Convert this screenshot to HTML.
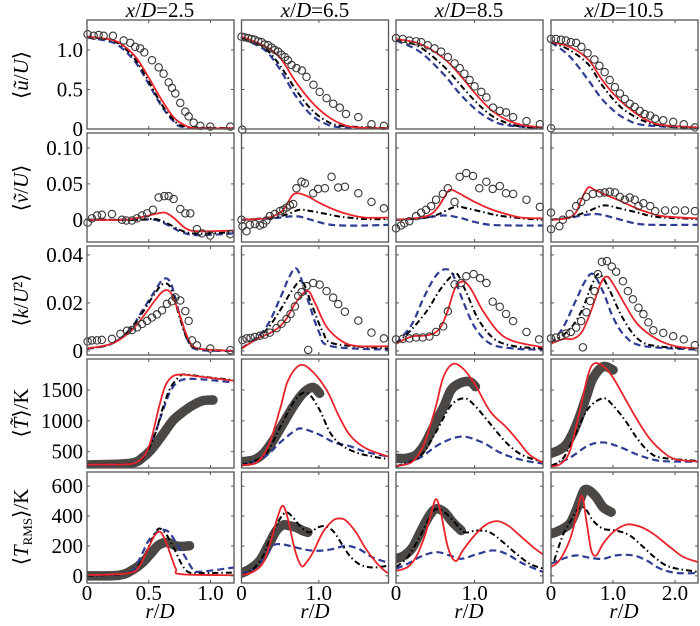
<!DOCTYPE html>
<html><head><meta charset="utf-8">
<style>
html,body{margin:0;padding:0;background:#fff;}
svg{display:block;}
text{font-family:"Liberation Serif","DejaVu Serif","Times New Roman",serif;}
</style></head>
<body>
<svg id="fig" width="700" height="626" viewBox="0 0 700 626" xmlns="http://www.w3.org/2000/svg" font-family="'Liberation Serif','DejaVu Serif',serif">
<defs id="defs"></defs>
<g id="titles" font-size="21" text-anchor="middle">
<text x="160" y="17"><tspan font-style="italic">x</tspan>/<tspan font-style="italic">D</tspan>=2.5</text>
<text x="315" y="17"><tspan font-style="italic">x</tspan>/<tspan font-style="italic">D</tspan>=6.5</text>
<text x="469" y="17"><tspan font-style="italic">x</tspan>/<tspan font-style="italic">D</tspan>=8.5</text>
<text x="624" y="17"><tspan font-style="italic">x</tspan>/<tspan font-style="italic">D</tspan>=10.5</text>
</g>
<g id="ytitles" font-size="21" text-anchor="middle">
<text transform="translate(28,75) rotate(-90)">⟨<tspan font-style="italic">ũ</tspan>/<tspan font-style="italic">U</tspan>⟩</text>
<text transform="translate(28,188) rotate(-90)">⟨<tspan font-style="italic">ṽ</tspan>/<tspan font-style="italic">U</tspan>⟩</text>
<text transform="translate(28,300) rotate(-90)">⟨<tspan font-style="italic">k</tspan>/<tspan font-style="italic">U</tspan>²⟩</text>
<text transform="translate(28,413) rotate(-90)">⟨<tspan font-style="italic">T̃</tspan>⟩/K</text>
<text transform="translate(28,527) rotate(-90)">⟨<tspan font-style="italic">T</tspan><tspan font-size="13" dy="4">RMS</tspan><tspan dy="-4">⟩/K</tspan></text>
</g>
<g id="xtitles" font-size="21" text-anchor="middle">
<text x="160" y="618"><tspan font-style="italic">r</tspan>/<tspan font-style="italic">D</tspan></text>
<text x="315" y="618"><tspan font-style="italic">r</tspan>/<tspan font-style="italic">D</tspan></text>
<text x="469" y="618"><tspan font-style="italic">r</tspan>/<tspan font-style="italic">D</tspan></text>
<text x="624" y="618"><tspan font-style="italic">r</tspan>/<tspan font-style="italic">D</tspan></text>
</g>
<g id="plots"></g>
</svg>
<script>
// ---- axis config (data ranges) ----
const colXmax=[1.19,1.9,1.87,2.37];
const rowMin=[0,-0.031,-0.0017,236,-48];
const rowMax=[1.38,0.121,0.0437,2002,695];
const rowTicks=[[0,0.5,1.0],[0,0.05,0.10],[0,0.02,0.04],[500,1000,1500],[0,200,400,600]];
const rowTickLabels=[["0","0.5","1.0"],["0","0.05","0.10"],["0","0.02","0.04"],["500","1000","1500"],["0","200","400","600"]];
const colTicks=[[0,0.5,1.0],[0,1.0],[0,1.0],[0,1.0,2.0]];
const colTickLabels=[["0","0.5","1.0"],["0","1.0"],["0","1.0"],["0","1.0","2.0"]];

// ---- row 1: <u/U> ----
const u1Exp=[[0.005,1.2],[0.054,1.18],[0.094,1.19],[0.135,1.18],[0.21,1.18],[0.297,1.12],[0.35,1.09],[0.39,1.04],[0.43,1.02],[0.464,0.97],[0.526,0.87],[0.58,0.78],[0.62,0.7],[0.661,0.59],[0.688,0.52],[0.715,0.45],[0.755,0.33],[0.796,0.22],[0.823,0.16],[0.863,0.08],[0.917,0.04],[0.998,0.03],[1.16,0.03]];
const u1Red=[[0,1.17],[0.2,1.13],[0.3,1.05],[0.4,0.9],[0.5,0.65],[0.6,0.38],[0.7,0.15],[0.8,0.04],[0.9,0.01],[1.19,0.01]];
const u1Blk=[[0,1.17],[0.2,1.12],[0.3,1.03],[0.4,0.86],[0.5,0.6],[0.6,0.32],[0.7,0.12],[0.8,0.03],[1.19,0.01]];
const u1Blu=[[0,1.16],[0.2,1.1],[0.3,1.0],[0.4,0.83],[0.5,0.57],[0.6,0.3],[0.7,0.1],[0.8,0.02],[1.19,0.01]];
const u2Exp=[[0,1.17],[0.043,1.16],[0.086,1.15],[0.13,1.14],[0.17,1.13],[0.216,1.11],[0.26,1.1],[0.3,1.07],[0.345,1.06],[0.39,1.03],[0.43,1.0],[0.474,0.98],[0.517,0.94],[0.56,0.91],[0.6,0.87],[0.647,0.81],[0.71,0.77],[0.78,0.74],[0.84,0.66],[0.93,0.56],[1.01,0.47],[1.1,0.39],[1.185,0.32],[1.27,0.27],[1.35,0.19],[1.51,0.15],[1.68,0.06],[1.84,0.04],[0.01,-0.01]];
const u2Red=[[0,1.17],[0.3,1.05],[0.5,0.9],[0.7,0.6],[0.9,0.35],[1.1,0.17],[1.3,0.06],[1.5,0.02],[1.9,0.01]];
const u2Blk=[[0,1.16],[0.3,1.02],[0.5,0.8],[0.7,0.5],[0.9,0.25],[1.1,0.1],[1.3,0.04],[1.9,0.01]];
const u2Blu=[[0,1.15],[0.3,1.0],[0.5,0.75],[0.7,0.42],[0.9,0.18],[1.1,0.06],[1.3,0.02],[1.9,0.0]];
const u3Exp=[[0,1.15],[0.085,1.14],[0.17,1.12],[0.255,1.11],[0.32,1.1],[0.404,1.06],[0.49,1.02],[0.574,0.98],[0.66,0.91],[0.745,0.83],[0.81,0.77],[0.87,0.7],[0.936,0.62],[1.0,0.54],[1.085,0.47],[1.15,0.4],[1.234,0.27],[1.32,0.23],[1.4,0.21],[1.49,0.15],[1.66,0.1],[1.83,0.06]];
const u3Red=[[0,1.14],[0.3,1.08],[0.6,0.9],[0.8,0.7],[1.0,0.46],[1.2,0.25],[1.4,0.12],[1.6,0.05],[1.87,0.02]];
const u3Blk=[[0,1.13],[0.3,1.04],[0.6,0.8],[0.8,0.58],[1.0,0.36],[1.2,0.18],[1.4,0.08],[1.6,0.03],[1.87,0.01]];
const u3Blu=[[0,1.12],[0.3,0.98],[0.6,0.7],[0.8,0.46],[1.0,0.26],[1.2,0.12],[1.4,0.05],[1.87,0.01]];
const u4Exp=[[0,1.14],[0.08,1.14],[0.16,1.13],[0.24,1.12],[0.32,1.1],[0.405,1.09],[0.49,1.04],[0.59,0.96],[0.7,0.88],[0.78,0.8],[0.865,0.72],[0.946,0.62],[1.03,0.53],[1.11,0.45],[1.19,0.38],[1.27,0.32],[1.35,0.28],[1.43,0.23],[1.51,0.19],[1.6,0.17],[1.68,0.13],[1.81,0.11],[1.97,0.09],[2.14,0.06],[2.32,0.02],[0,0.01]];
const u4Red=[[0,1.1],[0.3,1.04],[0.6,0.88],[0.8,0.65],[1.0,0.45],[1.2,0.3],[1.5,0.13],[1.8,0.05],[2.37,0.02]];
const u4Blk=[[0,1.1],[0.3,1.0],[0.6,0.82],[0.8,0.58],[1.0,0.38],[1.2,0.23],[1.5,0.1],[1.8,0.04],[2.37,0.01]];
const u4Blu=[[0,1.1],[0.3,0.92],[0.6,0.62],[0.8,0.4],[1.0,0.24],[1.2,0.13],[1.5,0.05],[2.37,0.01]];

// ---- row 2: <v/U> ----
const v1Exp=[[0.005,-0.004],[0.04,0.002],[0.081,0.006],[0.12,0.007],[0.202,0.008],[0.283,0],[0.318,-0.001],[0.364,-0.001],[0.405,0.002],[0.445,0.006],[0.486,0.009],[0.534,0.014],[0.58,0.031],[0.626,0.033],[0.661,0.033],[0.701,0.029],[0.755,0.015],[0.796,0.009],[0.836,0.009],[0.89,-0.013],[0.93,-0.019],[0.998,-0.022],[1.16,-0.02]];
const v1Red=[[0,0],[0.3,0],[0.45,0.004],[0.55,0.008],[0.63,0.01],[0.7,0.003],[0.8,-0.012],[0.9,-0.016],[1.19,-0.015]];
const v1Blk=[[0,0],[0.4,0],[0.55,0.001],[0.65,-0.005],[0.75,-0.014],[0.85,-0.019],[1.0,-0.019],[1.19,-0.017]];
const v1Blu=[[0,0],[0.4,0],[0.55,0],[0.65,-0.007],[0.75,-0.016],[0.85,-0.021],[1.0,-0.021],[1.19,-0.019]];
const v2Exp=[[0,0],[0.013,-0.009],[0.065,-0.016],[0.108,-0.007],[0.172,-0.006],[0.237,-0.008],[0.28,-0.006],[0.323,-0.001],[0.366,0.005],[0.43,0.008],[0.496,0.012],[0.54,0.014],[0.582,0.017],[0.625,0.02],[0.668,0.022],[0.71,0.044],[0.776,0.053],[0.82,0.051],[0.927,0.037],[0.99,0.043],[1.078,0.044],[1.164,0.06],[1.25,0.045],[1.336,0.046],[1.51,0.037],[1.68,0.025],[1.84,0.016]];
const v2Red=[[0,0],[0.3,0.002],[0.45,0.007],[0.55,0.015],[0.65,0.033],[0.72,0.037],[0.85,0.033],[1.0,0.024],[1.2,0.014],[1.4,0.007],[1.6,0.003],[1.9,0.003]];
const v2Blk=[[0,0],[0.4,0.003],[0.6,0.008],[0.75,0.014],[0.9,0.012],[1.1,0.008],[1.3,0.004],[1.6,0.001],[1.9,0.001]];
const v2Blu=[[0,0],[0.4,0.002],[0.7,0.005],[0.9,0.0],[1.1,-0.006],[1.3,-0.008],[1.6,-0.008],[1.9,-0.007]];
const v3Exp=[[0,-0.012],[0.064,-0.008],[0.106,-0.005],[0.17,-0.002],[0.255,0.005],[0.32,0.01],[0.383,0.014],[0.447,0.019],[0.51,0.028],[0.596,0.036],[0.66,0.044],[0.745,0.025],[0.81,0.06],[0.894,0.065],[0.98,0.061],[1.06,0.044],[1.15,0.053],[1.23,0.043],[1.32,0.047],[1.4,0.037],[1.49,0.036],[1.66,0.028],[1.83,0.018]];
const v3Red=[[0,0],[0.3,0.003],[0.45,0.008],[0.55,0.02],[0.65,0.038],[0.7,0.042],[0.8,0.037],[1.0,0.025],[1.2,0.015],[1.4,0.008],[1.6,0.003],[1.87,0.002]];
const v3Blk=[[0,0],[0.3,0.002],[0.5,0.006],[0.75,0.018],[0.9,0.016],[1.1,0.011],[1.3,0.006],[1.6,0.002],[1.87,0.0]];
const v3Blu=[[0,0],[0.3,0.002],[0.6,0.006],[0.8,0.003],[1.0,-0.003],[1.2,-0.007],[1.5,-0.008],[1.87,-0.008]];
const v4Exp=[[0,0.01],[0,-0.013],[0.135,-0.009],[0.19,0],[0.3,0.008],[0.405,0.019],[0.486,0.025],[0.567,0.032],[0.676,0.036],[0.784,0.037],[0.865,0.038],[0.946,0.039],[1.03,0.038],[1.11,0.032],[1.19,0.028],[1.27,0.031],[1.35,0.028],[1.41,0.019],[1.49,0.023],[1.6,0.019],[1.68,0.012],[1.84,0.013],[2.0,0.013],[2.16,0.013],[2.32,0.012]];
const v4Red=[[0,0],[0.25,0.002],[0.4,0.01],[0.5,0.03],[0.6,0.045],[0.7,0.042],[0.9,0.034],[1.1,0.027],[1.3,0.019],[1.5,0.012],[1.8,0.005],[2.37,0.002]];
const v4Blk=[[0,0],[0.3,0.003],[0.6,0.012],[0.85,0.02],[1.1,0.016],[1.4,0.01],[1.7,0.004],[2.37,0.001]];
const v4Blu=[[0,0],[0.3,0.003],[0.7,0.008],[1.0,0.003],[1.3,-0.004],[1.6,-0.007],[2.37,-0.007]];

// ---- row 3: <k/U^2> ----
const k1Exp=[[0.005,0.0039],[0.04,0.0044],[0.081,0.0044],[0.12,0.0046],[0.202,0.005],[0.27,0.0071],[0.324,0.0084],[0.364,0.0087],[0.405,0.0098],[0.445,0.0112],[0.486,0.0125],[0.526,0.0139],[0.566,0.0152],[0.607,0.0169],[0.647,0.0196],[0.688,0.0207],[0.715,0.0223],[0.755,0.021],[0.796,0.0166],[0.823,0.0125],[0.85,0.0044],[0.89,0.0023],[0.998,0.001],[1.16,0.0003]];
const k1Red=[[0,0.001],[0.2,0.003],[0.35,0.008],[0.45,0.014],[0.55,0.021],[0.62,0.025],[0.68,0.024],[0.75,0.015],[0.82,0.005],[0.9,0.001],[1.19,0]];
const k1Blk=[[0,0.001],[0.2,0.003],[0.35,0.009],[0.45,0.016],[0.55,0.024],[0.62,0.028],[0.68,0.026],[0.75,0.014],[0.82,0.004],[0.9,0.001],[1.19,0]];
const k1Blu=[[0,0.0008],[0.2,0.003],[0.35,0.009],[0.45,0.017],[0.55,0.025],[0.62,0.03],[0.68,0.028],[0.75,0.015],[0.82,0.004],[0.9,0.0005],[1.19,0]];
const k2Exp=[[0.013,0.0045],[0.065,0.0052],[0.116,0.0054],[0.172,0.0058],[0.237,0.0063],[0.3,0.0068],[0.366,0.0076],[0.453,0.0095],[0.517,0.0113],[0.582,0.0133],[0.634,0.0154],[0.69,0.0185],[0.733,0.0229],[0.776,0.0245],[0.84,0.027],[0.862,0.0004],[0.927,0.0283],[1.01,0.0276],[1.1,0.0249],[1.185,0.0222],[1.25,0.0195],[1.336,0.0163],[1.51,0.0126],[1.68,0.0076],[1.84,0.0052]];
const k2Red=[[0,0.001],[0.2,0.005],[0.4,0.008],[0.55,0.012],[0.7,0.02],[0.85,0.025],[0.95,0.02],[1.1,0.01],[1.3,0.004],[1.5,0.002],[1.9,0.002]];
const k2Blk=[[0,0.001],[0.3,0.008],[0.5,0.017],[0.65,0.025],[0.78,0.029],[0.9,0.02],[1.05,0.008],[1.2,0.003],[1.9,0.001]];
const k2Blu=[[0,0.001],[0.3,0.009],[0.5,0.022],[0.62,0.031],[0.72,0.034],[0.85,0.022],[1.0,0.008],[1.15,0.002],[1.9,0.0005]];
const k3Exp=[[0,0.0048],[0.085,0.005],[0.17,0.0052],[0.255,0.0056],[0.34,0.0056],[0.425,0.006],[0.51,0.0079],[0.6,0.0102],[0.66,0.0165],[0.745,0.0277],[0.83,0.0283],[0.894,0.0311],[0.987,0.032],[1.07,0.0303],[1.15,0.0283],[1.23,0.0205],[1.32,0.0184],[1.4,0.0154],[1.49,0.0124],[1.66,0.0079],[1.82,0.0048]];
const k3Red=[[0,0.003],[0.2,0.006],[0.4,0.0065],[0.55,0.009],[0.65,0.016],[0.75,0.026],[0.85,0.029],[0.95,0.026],[1.1,0.017],[1.3,0.008],[1.5,0.004],[1.87,0.0015]];
const k3Blk=[[0,0.003],[0.2,0.009],[0.4,0.017],[0.55,0.025],[0.7,0.031],[0.78,0.032],[0.9,0.024],[1.05,0.013],[1.25,0.005],[1.5,0.002],[1.87,0.001]];
const k3Blu=[[0,0.003],[0.2,0.011],[0.35,0.022],[0.5,0.031],[0.62,0.034],[0.72,0.032],[0.85,0.021],[1.0,0.01],[1.2,0.003],[1.5,0.001],[1.87,0.0005]];
const k4Exp=[[0,0.0052],[0.08,0.0056],[0.16,0.0061],[0.24,0.0072],[0.32,0.0079],[0.405,0.0097],[0.486,0.0124],[0.514,0.0015],[0.57,0.0161],[0.632,0.0208],[0.703,0.0249],[0.757,0.032],[0.82,0.0371],[0.9,0.0374],[0.98,0.0351],[1.05,0.033],[1.16,0.029],[1.24,0.0249],[1.32,0.0215],[1.41,0.018],[1.49,0.0153],[1.57,0.0119],[1.65,0.0086],[1.81,0.0075],[1.97,0.0061],[2.14,0.0048],[2.32,0.0024]];
const k4Red=[[0,0.003],[0.2,0.005],[0.35,0.005],[0.5,0.008],[0.65,0.017],[0.8,0.028],[0.9,0.031],[1.0,0.028],[1.2,0.019],[1.4,0.011],[1.7,0.005],[2.0,0.002],[2.37,0.001]];
const k4Blk=[[0,0.003],[0.3,0.009],[0.5,0.017],[0.65,0.027],[0.78,0.032],[0.95,0.025],[1.15,0.014],[1.4,0.005],[1.7,0.002],[2.37,0.001]];
const k4Blu=[[0,0.003],[0.2,0.01],[0.4,0.021],[0.55,0.029],[0.68,0.032],[0.85,0.024],[1.0,0.014],[1.2,0.006],[1.5,0.002],[2.37,0.0005]];

// ---- row 4: <T> ----
const t1Exp=[[0,285],[0.35,312],[0.46,420],[0.54,582],[0.62,798],[0.7,1014],[0.78,1149],[0.86,1257],[0.94,1327],[1.02,1338]];
const t1Red=[[0,290],[0.3,295],[0.4,330],[0.47,450],[0.52,700],[0.58,1200],[0.63,1550],[0.68,1700],[0.75,1750],[0.9,1720],[1.19,1650]];
const t1Blk=[[0,290],[0.3,295],[0.4,330],[0.47,440],[0.55,780],[0.62,1250],[0.68,1550],[0.75,1720],[0.8,1750],[1.0,1700],[1.19,1660]];
const t1Blu=[[0,290],[0.3,295],[0.45,400],[0.55,800],[0.62,1200],[0.68,1500],[0.75,1650],[0.85,1680],[1.0,1660],[1.19,1620]];
const t2Exp=[[0,339],[0.157,366],[0.285,474],[0.413,690],[0.54,960],[0.668,1230],[0.795,1446],[0.92,1543],[1.01,1446]];
const t2Red=[[0,280],[0.2,330],[0.35,600],[0.5,1200],[0.6,1650],[0.75,1900],[0.9,1820],[1.1,1500],[1.25,1100],[1.4,770],[1.6,560],[1.9,420]];
const t2Blk=[[0,280],[0.3,450],[0.5,900],[0.7,1350],[0.85,1450],[1.0,1200],[1.15,800],[1.3,600],[1.5,480],[1.7,420],[1.9,380]];
const t2Blu=[[0,280],[0.3,420],[0.5,650],[0.7,850],[0.8,870],[1.0,780],[1.2,650],[1.4,590],[1.6,500],[1.9,420]];
const t3Exp=[[0,393],[0.128,393],[0.255,447],[0.36,609],[0.447,825],[0.53,1041],[0.617,1257],[0.7,1500],[0.81,1608],[0.936,1635],[1.01,1554]];
const t3Red=[[0,270],[0.2,330],[0.35,600],[0.5,1200],[0.6,1700],[0.72,1920],[0.85,1850],[1.0,1600],[1.2,1150],[1.4,900],[1.55,680],[1.7,450],[1.87,320]];
const t3Blk=[[0,260],[0.3,420],[0.5,800],[0.7,1250],[0.87,1365],[1.0,1250],[1.2,950],[1.4,650],[1.6,450],[1.87,330]];
const t3Blu=[[0,260],[0.3,400],[0.55,620],[0.83,745],[1.1,650],[1.3,500],[1.5,400],[1.7,340],[1.87,310]];
const t4Exp=[[0,474],[0.135,528],[0.24,609],[0.35,798],[0.46,1068],[0.57,1392],[0.676,1689],[0.84,1878],[1.0,1824]];
const t4Red=[[0,260],[0.15,300],[0.3,500],[0.45,1100],[0.6,1750],[0.7,1930],[0.85,1880],[1.0,1700],[1.2,1350],[1.4,1000],[1.6,700],[1.8,500],[2.0,380],[2.37,340]];
const t4Blk=[[0,270],[0.2,400],[0.4,800],[0.6,1200],[0.84,1365],[1.0,1250],[1.2,1000],[1.4,700],[1.6,480],[1.8,400],[2.37,350]];
const t4Blu=[[0,270],[0.3,400],[0.6,600],[0.84,650],[1.1,580],[1.4,450],[1.7,360],[2.0,340],[2.37,340]];

// ---- row 5: <T_RMS> ----
const r1Exp=[[0,0],[0.26,4],[0.37,40],[0.45,89],[0.52,152],[0.58,206],[0.65,224],[0.72,201],[0.77,197],[0.83,201]];
const r1Red=[[0,4],[0.34,18],[0.425,67],[0.48,156],[0.546,268],[0.59,295],[0.63,246],[0.68,134],[0.72,45],[0.76,11],[1.19,4]];
const r1Blk=[[0,0],[0.34,18],[0.425,78],[0.49,179],[0.546,279],[0.586,317],[0.64,279],[0.707,179],[0.774,67],[0.83,22],[0.935,18],[1.19,22]];
const r1Blu=[[0,0],[0.34,22],[0.425,112],[0.49,224],[0.546,279],[0.6,308],[0.667,290],[0.734,201],[0.79,134],[0.855,45],[0.91,27],[1.19,56]];
const r2Exp=[[0,18],[0.107,45],[0.236,101],[0.343,201],[0.45,302],[0.536,340],[0.622,335],[0.708,324],[0.794,302],[0.858,291]];
const r2Red=[[0,4],[0.15,27],[0.28,89],[0.386,246],[0.472,402],[0.536,469],[0.6,380],[0.687,179],[0.773,67],[0.837,89],[0.923,156],[1.05,291],[1.18,369],[1.266,384],[1.352,369],[1.48,291],[1.61,179],[1.78,67],[1.89,18]];
const r2Blk=[[0,0],[0.15,45],[0.28,134],[0.386,268],[0.494,380],[0.58,425],[0.665,391],[0.773,324],[0.88,291],[0.987,324],[1.09,331],[1.2,291],[1.31,201],[1.416,123],[1.545,72],[1.695,56],[1.89,67]];
const r2Blu=[[0,11],[0.15,45],[0.28,112],[0.408,201],[0.494,212],[0.622,201],[0.837,174],[1.01,168],[1.18,179],[1.35,201],[1.52,179],[1.695,123],[1.89,89]];
const r3Exp=[[0,114],[0.106,137],[0.213,192],[0.32,303],[0.425,403],[0.51,448],[0.617,425],[0.72,359],[0.83,303]];
const r3Red=[[0,32],[0.15,59],[0.255,126],[0.36,259],[0.447,414],[0.51,514],[0.574,414],[0.66,192],[0.757,99],[0.85,170],[0.98,259],[1.13,337],[1.28,366],[1.425,337],[1.574,270],[1.745,192],[1.87,143]];
const r3Blk=[[0,59],[0.15,126],[0.3,259],[0.425,392],[0.51,448],[0.617,425],[0.745,359],[0.87,292],[1.02,303],[1.19,292],[1.36,226],[1.53,148],[1.7,81],[1.87,48]];
const r3Blu=[[0,48],[0.15,81],[0.32,130],[0.51,159],[0.68,137],[0.83,114],[1.02,143],[1.23,170],[1.4,148],[1.62,81],[1.87,26]];
const r4Exp=[[0,281],[0.135,303],[0.3,348],[0.405,437],[0.486,526],[0.54,575],[0.62,570],[0.73,526],[0.84,459],[0.97,426]];
const r4Red=[[0,59],[0.135,103],[0.3,237],[0.405,392],[0.497,537],[0.578,348],[0.65,170],[0.73,137],[0.84,215],[1.0,292],[1.216,343],[1.43,330],[1.65,281],[1.92,192],[2.135,126],[2.37,92]];
const r4Blk=[[0.05,100],[0.19,270],[0.32,370],[0.46,459],[0.57,440],[0.676,370],[0.84,315],[1.05,303],[1.27,270],[1.49,192],[1.7,114],[1.92,59],[2.37,26]];
const r4Blu=[[0,81],[0.19,114],[0.405,137],[0.62,121],[0.84,114],[1.05,137],[1.32,137],[1.54,103],[1.76,48],[2.03,19],[2.37,19]];

const rowNames=["u","v","k","t","trms"];
const colNames=["xd-2-5","xd-6-5","xd-8-5","xd-10-5"];
const panelSeries=[
 [[u1Exp,u1Red,u1Blk,u1Blu],[u2Exp,u2Red,u2Blk,u2Blu],[u3Exp,u3Red,u3Blk,u3Blu],[u4Exp,u4Red,u4Blk,u4Blu]],
 [[v1Exp,v1Red,v1Blk,v1Blu],[v2Exp,v2Red,v2Blk,v2Blu],[v3Exp,v3Red,v3Blk,v3Blu],[v4Exp,v4Red,v4Blk,v4Blu]],
 [[k1Exp,k1Red,k1Blk,k1Blu],[k2Exp,k2Red,k2Blk,k2Blu],[k3Exp,k3Red,k3Blk,k3Blu],[k4Exp,k4Red,k4Blk,k4Blu]],
 [[t1Exp,t1Red,t1Blk,t1Blu],[t2Exp,t2Red,t2Blk,t2Blu],[t3Exp,t3Red,t3Blk,t3Blu],[t4Exp,t4Red,t4Blk,t4Blu]],
 [[r1Exp,r1Red,r1Blk,r1Blu],[r2Exp,r2Red,r2Blk,r2Blu],[r3Exp,r3Red,r3Blk,r3Blu],[r4Exp,r4Red,r4Blk,r4Blu]]
];

// ---- layout ----
const colLeft=[87,241.5,396,551];
const PW=147;
const rowTop=[20,133,246,359,472];
const rowH=[109,109,109,109,111];
const NS="http://www.w3.org/2000/svg";
function sx(c,x){return colLeft[c]+x/colXmax[c]*PW;}
function sy(r,y){return rowTop[r]+rowH[r]-(y-rowMin[r])/(rowMax[r]-rowMin[r])*rowH[r];}
function mk(tag,attrs,parent){const e=document.createElementNS(NS,tag);for(const k in attrs)e.setAttribute(k,attrs[k]);parent.appendChild(e);return e;}
function smooth(pts){
  if(pts.length<2)return "";
  let d="M"+pts[0][0].toFixed(2)+","+pts[0][1].toFixed(2);
  for(let i=0;i<pts.length-1;i++){
    const p0=pts[i-1]||pts[i],p1=pts[i],p2=pts[i+1],p3=pts[i+2]||p2;
    const c1x=p1[0]+(p2[0]-p0[0])/6,c1y=p1[1]+(p2[1]-p0[1])/6;
    const c2x=p2[0]-(p3[0]-p1[0])/6,c2y=p2[1]-(p3[1]-p1[1])/6;
    d+="C"+c1x.toFixed(2)+","+c1y.toFixed(2)+" "+c2x.toFixed(2)+","+c2y.toFixed(2)+" "+p2[0].toFixed(2)+","+p2[1].toFixed(2);
  }
  return d;
}
const plots=document.getElementById("plots");
const defs=document.getElementById("defs");
for(let r=0;r<5;r++){
  for(let c=0;c<4;c++){
    const x0=colLeft[c],y0=rowTop[r],h=rowH[r];
    const cp=mk("clipPath",{id:"cp"+r+c},defs);
    mk("rect",{x:x0,y:y0,width:PW,height:h},cp);
    const g=mk("g",{},plots);
    
    
    const [exp,red,blk,blu]=panelSeries[r][c];
    const inner=mk("g",{"clip-path":"url(#cp"+r+c+")"},g);
    const toPx=a=>a.map(p=>[sx(c,p[0]),sy(r,p[1])]);
    if(r>=3){
      const ep=mk("path",{d:smooth(toPx(exp)),fill:"none",stroke:"#4b4744","stroke-width":9.5,"stroke-linecap":"round","stroke-linejoin":"round"},inner);
      
      
    }
    const bp=mk("path",{d:smooth(toPx(blu)),fill:"none",stroke:"#2f3c93","stroke-width":2.2,"stroke-dasharray":"7,4"},inner);
    
    
    const kp=mk("path",{d:smooth(toPx(blk)),fill:"none",stroke:"#000","stroke-width":2,"stroke-dasharray":"6,3,1.5,3"},inner);
    
    
    const rp=mk("path",{d:smooth(toPx(red)),fill:"none",stroke:"#e8242a","stroke-width":1.8},inner);
    
    
    if(r<3){
      exp.forEach(p=>{
        const ci=mk("circle",{cx:sx(c,p[0]),cy:sy(r,p[1]),r:3.7,fill:"none",stroke:"#3a3634","stroke-width":1.1},g);
        
        
      });
    }
    const fr=mk("rect",{x:x0,y:y0,width:PW,height:h,fill:"none",stroke:"#555","stroke-width":1.3},g);
    
    
    rowTicks[r].forEach((v,i)=>{
      const yy=sy(r,v);
      mk("line",{x1:x0,x2:x0+3,y1:yy,y2:yy,stroke:"#555","stroke-width":1},g);
      mk("line",{x1:x0+PW,x2:x0+PW-3,y1:yy,y2:yy,stroke:"#555","stroke-width":1},g);
      if(c===0){
        const t=mk("text",{x:x0-4,y:yy+7,"font-size":21,"text-anchor":"end"},plots);
        t.textContent=rowTickLabels[r][i];
        
        
      }
    });
    colTicks[c].forEach((v,i)=>{
      const xx=sx(c,v);
      mk("line",{x1:xx,x2:xx,y1:y0+h,y2:y0+h-3,stroke:"#555","stroke-width":1},g);
      mk("line",{x1:xx,x2:xx,y1:y0,y2:y0+3,stroke:"#555","stroke-width":1},g);
      if(r===4){
        const t=mk("text",{x:xx,y:600,"font-size":21,"text-anchor":"middle"},plots);
        t.textContent=colTickLabels[c][i];
        
        
      }
    });
  }
}
</script>
</body></html>
